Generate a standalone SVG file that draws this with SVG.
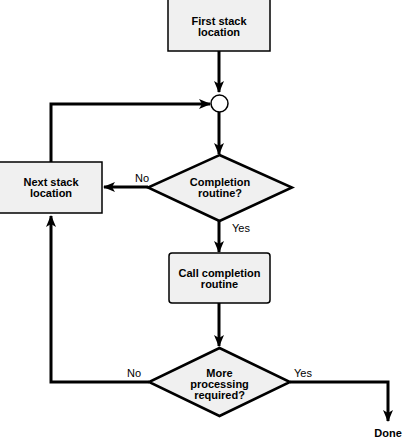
<svg xmlns="http://www.w3.org/2000/svg" width="404" height="439" viewBox="0 0 404 439">
<defs>
<style>
.box{fill:#f0f0f0;stroke:#000;stroke-width:1.5}
.dia{fill:#f0f0f0;stroke:#000;stroke-width:2.5}
.line{fill:none;stroke:#000;stroke-width:3}
.t{font-family:"Liberation Sans",Arial,sans-serif;font-size:11px;font-weight:bold;text-anchor:middle;fill:#000}
.lbl{font-family:"Liberation Sans",Arial,sans-serif;font-size:11px;text-anchor:middle;fill:#000}
</style>
<marker id="ah" viewBox="0 0 12 10" refX="11" refY="5" markerWidth="12" markerHeight="10" markerUnits="userSpaceOnUse" orient="auto">
<path d="M0,0 L12,5 L0,10 L3,5 Z" fill="#000"/>
</marker>
</defs>
<rect width="404" height="439" fill="#fff"/>
<g id="connectors">
<path class="line" d="M219,51 V92" marker-end="url(#ah)"/>
<path class="line" d="M51,162 V104 H210" marker-end="url(#ah)"/>
<path class="line" d="M219,112 V154" marker-end="url(#ah)"/>
<path class="line" d="M148,187 H104" marker-end="url(#ah)"/>
<path class="line" d="M219,221 V252" marker-end="url(#ah)"/>
<path class="line" d="M219,303 V346" marker-end="url(#ah)"/>
<path class="line" d="M149,382 H51 V216" marker-end="url(#ah)"/>
<path class="line" d="M290,382 H388 V421" marker-end="url(#ah)"/>
</g>
<g id="first">
<rect class="box" x="168" y="-1" width="102" height="52"/>
<text class="t" x="219" y="25">First stack</text>
<text class="t" x="219" y="36">location</text>
</g>
<g id="junction">
<circle cx="219.5" cy="103.5" r="8.5" fill="#fff" stroke="#000" stroke-width="1.5"/>
</g>
<g id="completion">
<polygon class="dia" points="219.5,155 292,187.5 219.5,221 148,187.5"/>
<text class="t" x="220" y="186">Completion</text>
<text class="t" x="220" y="197">routine?</text>
<text class="lbl" x="142" y="182">No</text>
<text class="lbl" x="241" y="232">Yes</text>
</g>
<g id="next">
<rect class="box" x="-1" y="162" width="103" height="51"/>
<text class="t" x="51" y="186">Next stack</text>
<text class="t" x="51" y="197">location</text>
</g>
<g id="call">
<rect class="box" x="169" y="253" width="101" height="50" rx="3"/>
<text class="t" x="219.5" y="277">Call completion</text>
<text class="t" x="219.5" y="288">routine</text>
</g>
<g id="more">
<polygon class="dia" points="219.5,348 290,382 219.5,416 149,382"/>
<text class="t" x="219.5" y="377">More</text>
<text class="t" x="219.5" y="388">processing</text>
<text class="t" x="219.5" y="399">required?</text>
<text class="lbl" x="134" y="377">No</text>
<text class="lbl" x="303" y="377">Yes</text>
</g>
<g id="done">
<text class="t" x="388" y="437">Done</text>
</g>
</svg>
